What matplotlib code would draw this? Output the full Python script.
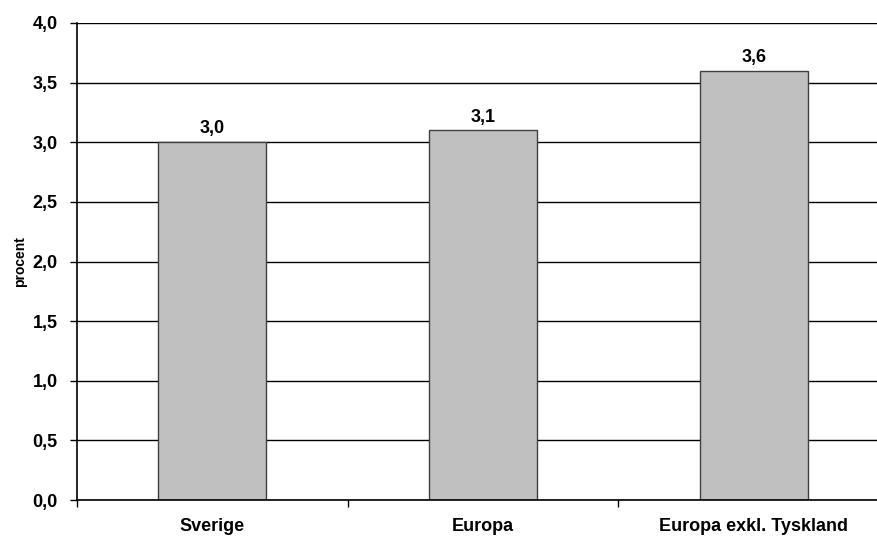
import matplotlib.pyplot as plt
from matplotlib.ticker import FixedLocator, FuncFormatter

categories = ['Sverige', 'Europa', 'Europa exkl. Tyskland']
values = [3.0, 3.1, 3.6]
yticks = [0.0, 0.5, 1.0, 1.5, 2.0, 2.5, 3.0, 3.5, 4.0]

plt.rcParams['font.family'] = ['Liberation Sans', 'DejaVu Sans']
plt.rcParams['font.weight'] = 'bold'

fig = plt.figure(figsize=(8.78, 5.38), dpi=100)
# plot area runs past the right edge of the picture, as in the original
ax = fig.add_axes([77 / 878, 38 / 538, 812 / 878, 477 / 538])

x = list(range(len(categories)))
bars = ax.bar(x, values, width=0.4, color='#c0c0c0', edgecolor='#404040',
              linewidth=1, zorder=3)

for xi, v in zip(x, values):
    ax.text(xi, v + 0.04, f'{v:.1f}'.replace('.', ','), ha='center',
            va='bottom', fontsize=13, fontweight='bold')

ax.set_ylim(0, 4)
ax.set_xlim(-0.5, len(categories) - 0.5)
ax.set_yticks(yticks)
ax.yaxis.set_major_formatter(FuncFormatter(lambda v, p: f'{v:.1f}'.replace('.', ',')))
ax.grid(axis='y', color='black', linewidth=1, zorder=0)

ax.set_xticks(x)
ax.set_xticklabels(categories)
ax.xaxis.set_minor_locator(FixedLocator([i - 0.5 for i in range(len(categories) + 1)]))
ax.tick_params(axis='x', which='major', length=0, pad=13, labelsize=13)
ax.tick_params(axis='x', which='minor', length=5, width=1, direction='out')
ax.tick_params(axis='y', length=5, width=1, pad=9, labelsize=13)

for s in ['top', 'right']:
    ax.spines[s].set_visible(False)
for s in ['left', 'bottom']:
    ax.spines[s].set_linewidth(1.2)
    ax.spines[s].set_zorder(4)

ax.set_ylabel('procent', fontsize=10, fontweight='bold', labelpad=4)

fig.savefig('out.png', dpi=100)
